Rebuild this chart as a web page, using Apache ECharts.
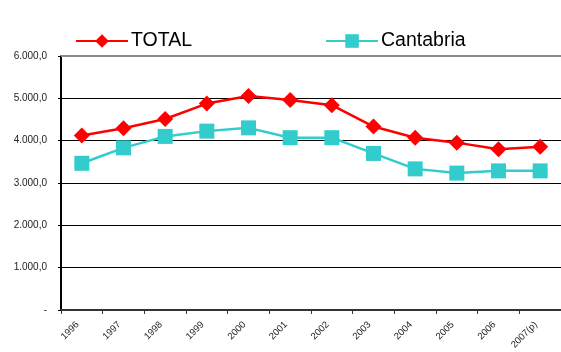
<!DOCTYPE html>
<html>
<head>
<meta charset="utf-8">
<script src="https://cdn.jsdelivr.net/npm/echarts@6/dist/echarts.min.js"></script>
<style>
  html, body { margin: 0; padding: 0; background: #fff; }
  #chart { width: 561px; height: 352px; }
</style>
</head>
<body>
<div id="chart"></div>
<script>
var years = ['1996', '1997', '1998', '1999', '2000', '2001', '2002', '2003', '2004', '2005', '2006', '2007(p)'];
var total = [4123, 4295, 4512, 4876, 5054, 4961, 4837, 4333, 4070, 3953, 3798, 3853];
var cantabria = [3465, 3830, 4100, 4225, 4302, 4070, 4070, 3698, 3333, 3233, 3286, 3286];

function fmt(v) {
    if (v === 0) return '-';
    var s = String(Math.round(v));
    s = s.replace(/\B(?=(\d{3})+(?!\d))/g, '.');
    return s + ',0';
}

var chart = echarts.init(document.getElementById('chart'));
chart.setOption({
    animation: false,
    textStyle: { fontFamily: 'Liberation Sans, Arial, sans-serif' },
    legend: {
        left: 75,
        top: 31,
        padding: 0,
        itemWidth: 52,
        itemHeight: 17,
        itemGap: 133,
        textStyle: { fontSize: 19.5, color: '#000', padding: [0, 0, 0, -2] },
        data: ['TOTAL', 'Cantabria']
    },
    grid: { left: 61, right: -2, top: 56, bottom: 38 },
    xAxis: [{
        type: 'category',
        data: years,
        boundaryGap: true,
        axisLine: { lineStyle: { color: '#333', width: 2 } },
        axisTick: { show: true, length: 4, lineStyle: { color: '#333' } },
        axisLabel: { rotate: 45, fontSize: 9.5, color: '#222', margin: 9, padding: [0, 6, 0, 0], interval: 0 },
        splitLine: { show: false }
    }, {
        type: 'category',
        data: years,
        position: 'top',
        axisLine: { lineStyle: { color: '#8c8c8c', width: 2 } },
        axisTick: { show: false },
        axisLabel: { show: false }
    }],
    yAxis: {
        type: 'value',
        min: 0,
        max: 6000,
        interval: 1000,
        axisLine: { show: true, lineStyle: { color: '#000', width: 2 } },
        axisTick: { show: true, length: 3, lineStyle: { color: '#000' } },
        axisLabel: { fontSize: 10, color: '#222', margin: 14, formatter: fmt },
        splitLine: { lineStyle: { color: '#000', width: 1 } }
    },
    series: [{
        name: 'TOTAL',
        type: 'line',
        data: total,
        symbol: 'diamond',
        symbolSize: 16,
        itemStyle: { color: '#ff0000' },
        lineStyle: { color: '#ff0000', width: 2.5 }
    }, {
        name: 'Cantabria',
        type: 'line',
        data: cantabria,
        symbol: 'rect',
        symbolSize: 15,
        itemStyle: { color: '#33cccc' },
        lineStyle: { color: '#33cccc', width: 2.5 }
    }]
});
</script>
</body>
</html>
